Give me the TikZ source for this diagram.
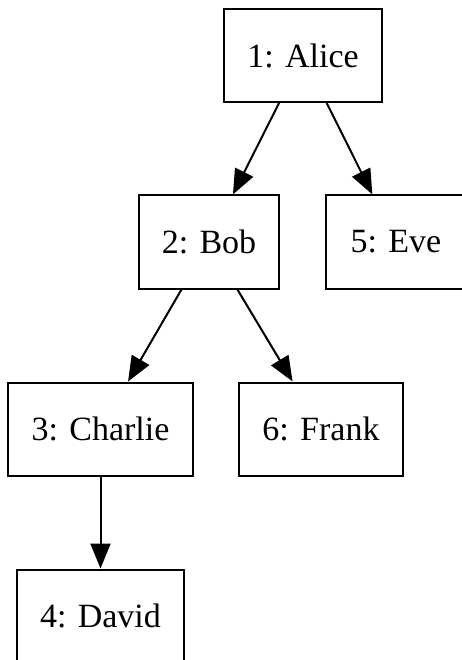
\documentclass[tikz,border=0pt]{standalone}
\usepackage{fontspec}
\setmainfont{Liberation Serif}
\newfontfamily\labelfont{Liberation Serif}
\usetikzlibrary{arrows.meta}
\begin{document}
\begin{tikzpicture}[x=1pt,y=-1pt,
  person/.style={draw, line width=2pt, rectangle, inner sep=0pt,
    minimum height=93pt, font=\labelfont\fontsize{34}{40}\selectfont},
  link/.style={line width=2pt, -{Triangle[length=25pt,width=20pt]}}]
  \useasboundingbox (0,0) rectangle (462,660);
  \clip (0,0) rectangle (462,660);
  \node[person, minimum width=158pt] (alice)   at (303,55.5) {1: Alice};
  \node[person, minimum width=140pt] (bob)     at (209,242)  {2: Bob};
  \node[person, minimum width=140pt] (eve)     at (396,242)  {5: Eve};
  \node[person, minimum width=185pt] (charlie) at (100.5,429) {3: Charlie};
  \node[person, minimum width=164pt] (frank)   at (321,429)  {6: Frank};
  \node[person, minimum width=167pt] (david)   at (100.5,616) {4: David};
  \draw[link] (alice) -- (bob);
  \draw[link] (alice) -- (eve);
  \draw[link] (bob) -- (charlie);
  \draw[link] (bob) -- (frank);
  \draw[link] (charlie) -- (david);
\end{tikzpicture}
\end{document}
